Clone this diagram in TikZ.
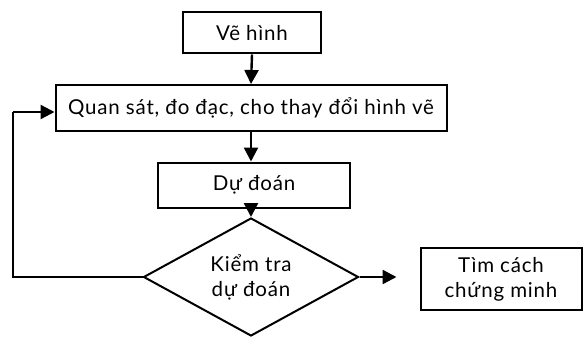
\documentclass[tikz,border=0pt]{standalone}
\usepackage{fontspec}
\setmainfont[LetterSpace=4]{Lato}
\usetikzlibrary{arrows.meta,shapes.geometric}
\begin{document}
\begin{tikzpicture}[x=1pt,y=-1pt,
  every node/.style={font=\fontsize{20.5}{25}\selectfont},
  box/.style={draw,line width=2pt,inner sep=0pt,align=center},
  dia/.style={draw,diamond,line width=2pt,inner sep=0pt,align=center,aspect=1.8},
  arr/.style={line width=2.4pt,-{Triangle[length=14pt,width=14pt]}},
  ln/.style={line width=2.2pt}]
\useasboundingbox (0,0) rectangle (586,337);
\node[box,minimum width=138pt,minimum height=41pt] (b1) at (252,33) {Vẽ hình};
\node[box,minimum width=391pt,minimum height=46pt] (b2) at (251,108) {Quan sát, đo đạc, cho thay đổi hình vẽ};
\node[box,minimum width=192pt,minimum height=45pt] (b3) at (254,185) {Dự đoán};
\node[dia,minimum width=215pt,minimum height=118pt] (d) at (251,277) {Kiểm tra\\dự đoán};
\node[box,minimum width=161pt,minimum height=62pt] (b4) at (501,279) {Tìm cách\\chứng minh};
\coordinate (fl) at (13,277);
\coordinate (fu) at (13,112);
\draw[arr] (b1.south) -- (b2.north);
\draw[arr] (b2.south) -- (b2.south |- b3.north);
\draw[arr] (b3.south -| d.north) -- (d.north);
\draw[arr] (d.east) -- ++(37,0);
\draw[ln] (d.west) -- (fl) -- (fu);
\draw[arr] (fu) -- (fu -| b2.west);
\end{tikzpicture}
\end{document}
